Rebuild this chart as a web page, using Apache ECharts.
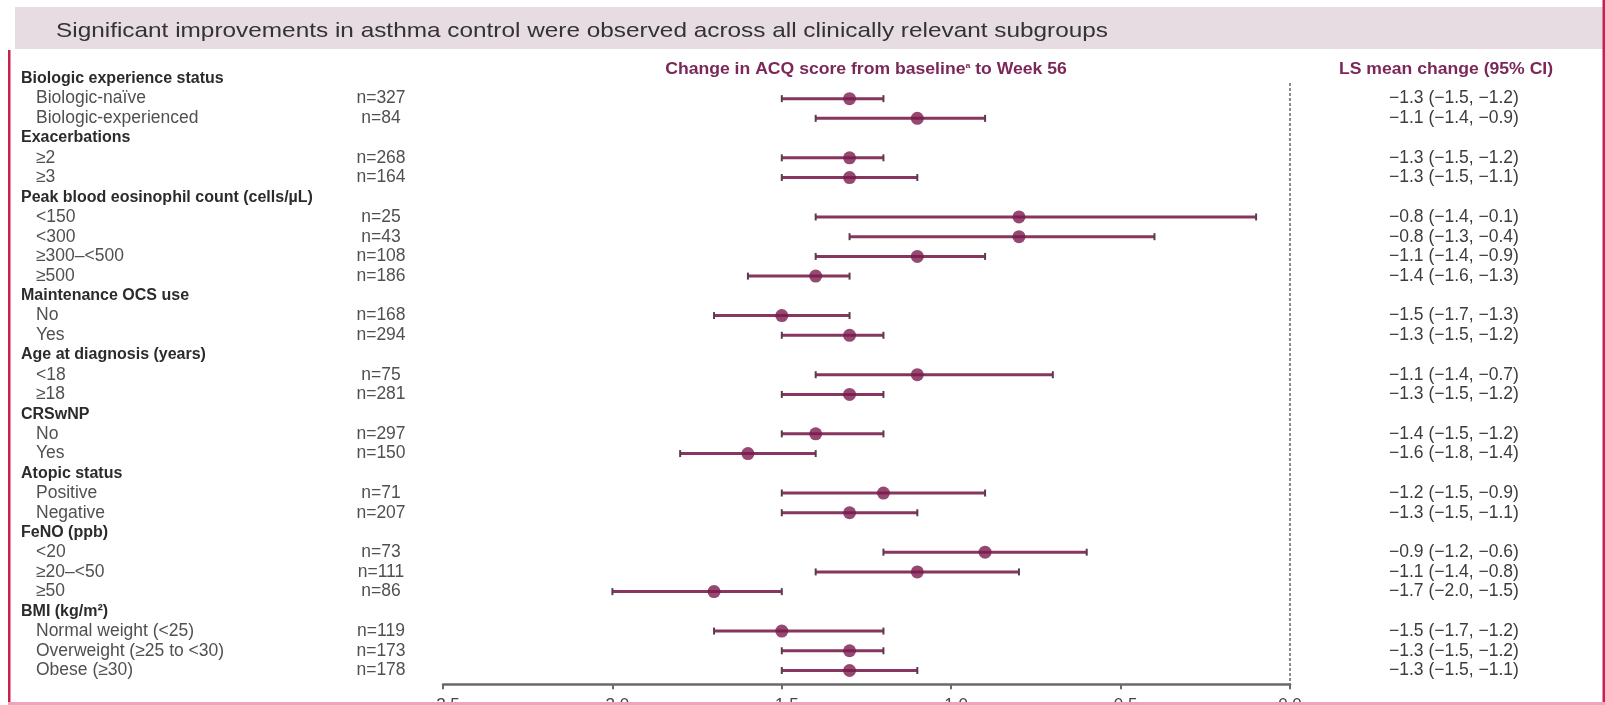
<!DOCTYPE html>
<html>
<head>
<meta charset="utf-8">
<script src="https://cdn.jsdelivr.net/npm/echarts@6/dist/echarts.min.js"></script>
<style>
  html, body { margin: 0; padding: 0; background: #ffffff; }
  #chart { width: 1605px; height: 705px; }
</style>
</head>
<body>
<div id="chart"></div>
<script>
// Subgroup rows, top to bottom (group headings have no n / estimate)
const rowLabels = [
  'Biologic experience status', 'Biologic-naïve', 'Biologic-experienced',
  'Exacerbations', '≥2', '≥3',
  'Peak blood eosinophil count (cells/µL)', '<150', '<300', '≥300–<500', '≥500',
  'Maintenance OCS use', 'No', 'Yes',
  'Age at diagnosis (years)', '<18', '≥18',
  'CRSwNP', 'No', 'Yes',
  'Atopic status', 'Positive', 'Negative',
  'FeNO (ppb)', '<20', '≥20–<50', '≥50',
  'BMI (kg/m²)', 'Normal weight (<25)', 'Overweight (≥25 to <30)', 'Obese (≥30)'
];
const headerRows = [0, 3, 6, 11, 14, 17, 20, 23, 27];
const nLabels = [
  '', 'n=327', 'n=84',
  '', 'n=268', 'n=164',
  '', 'n=25', 'n=43', 'n=108', 'n=186',
  '', 'n=168', 'n=294',
  '', 'n=75', 'n=281',
  '', 'n=297', 'n=150',
  '', 'n=71', 'n=207',
  '', 'n=73', 'n=111', 'n=86',
  '', 'n=119', 'n=173', 'n=178'
];
// LS mean change in ACQ score and 95% CI
const lsMean = [
  null, -1.3, -1.1,
  null, -1.3, -1.3,
  null, -0.8, -0.8, -1.1, -1.4,
  null, -1.5, -1.3,
  null, -1.1, -1.3,
  null, -1.4, -1.6,
  null, -1.2, -1.3,
  null, -0.9, -1.1, -1.7,
  null, -1.5, -1.3, -1.3
];
const ciLower = [
  null, -1.5, -1.4,
  null, -1.5, -1.5,
  null, -1.4, -1.3, -1.4, -1.6,
  null, -1.7, -1.5,
  null, -1.4, -1.5,
  null, -1.5, -1.8,
  null, -1.5, -1.5,
  null, -1.2, -1.4, -2.0,
  null, -1.7, -1.5, -1.5
];
const ciUpper = [
  null, -1.2, -0.9,
  null, -1.2, -1.1,
  null, -0.1, -0.4, -0.9, -1.3,
  null, -1.3, -1.2,
  null, -0.7, -1.2,
  null, -1.2, -1.4,
  null, -0.9, -1.1,
  null, -0.6, -0.8, -1.5,
  null, -1.2, -1.2, -1.1
];
const xTicks = [-2.5, -2.0, -1.5, -1.0, -0.5, 0.0];

const titleText = 'Significant improvements in asthma control were observed across all clinically relevant subgroups';
const FONT = '"Liberation Sans", Arial, Helvetica, sans-serif';
const PLUM = '#7b2757';
const BODY_SIZE = 17.5;

function fmt(v) {
  return (v < 0 ? '\u2212' : '') + Math.abs(v).toFixed(1);
}
function rowIndex(v) {
  const i = Math.round(v);
  if (Math.abs(v - i) > 1e-6 || i < 0 || i >= rowLabels.length) return -1;
  return i;
}

const Y_MIN = -2, Y_MAX = 30.7;
function rowAxis(position, label) {
  return {
    type: 'value', gridIndex: 0, position: position, offset: 0,
    min: Y_MIN, max: Y_MAX, interval: 1, inverse: true,
    axisLine: { show: false }, axisTick: { show: false }, splitLine: { show: false },
    axisLabel: Object.assign({ fontFamily: FONT, fontSize: BODY_SIZE, showMinLabel: true, showMaxLabel: true }, label)
  };
}

const ciData = [], meanData = [];
lsMean.forEach((m, i) => {
  if (m === null) return;
  ciData.push([ciLower[i], ciUpper[i], i]);
  meanData.push([m, i]);
});

const chart = echarts.init(document.getElementById('chart'), null, { renderer: 'canvas' });

chart.setOption({
  backgroundColor: '#ffffff',
  animation: false,
  grid: { left: 443, right: 315, top: 39.5, bottom: 20.7, containLabel: false, outerBoundsMode: 'none' },
  xAxis: {
    type: 'value', min: -2.5, max: 0, interval: 0.5, position: 'bottom',
    axisLine: { onZero: false, lineStyle: { color: '#6a6a6a', width: 2.5 } },
    axisTick: { length: 5, lineStyle: { color: '#6a6a6a', width: 2 } },
    splitLine: { show: false },
    axisLabel: {
      margin: 13, fontFamily: FONT, fontSize: 17, color: '#444',
      customValues: xTicks,
      formatter: v => (v === 0 ? '0.0' : fmt(v))
    }
  },
  yAxis: [
    // plotting axis + subgroup names
    rowAxis('left', {
      align: 'left', margin: 422,
      formatter: v => {
        const i = rowIndex(v);
        if (i < 0) return '';
        return headerRows.indexOf(i) >= 0 ? '{h|' + rowLabels[i] + '}' : '{i|' + rowLabels[i] + '}';
      },
      rich: {
        h: { fontFamily: FONT, fontSize: 16, fontWeight: 'bold', color: '#2b2b2b' },
        i: { fontFamily: FONT, fontSize: BODY_SIZE, color: '#505050', padding: [0, 0, 0, 15] }
      }
    }),
    // sample sizes
    rowAxis('left', {
      align: 'center', margin: 62, color: '#505050',
      formatter: v => { const i = rowIndex(v); return i < 0 ? '' : nLabels[i]; }
    }),
    // LS mean change (95% CI)
    rowAxis('right', {
      align: 'left', margin: 99, color: '#3c3c3c',
      formatter: v => {
        const i = rowIndex(v);
        if (i < 0 || lsMean[i] === null) return '';
        return fmt(lsMean[i]) + ' (' + fmt(ciLower[i]) + ', ' + fmt(ciUpper[i]) + ')';
      }
    })
  ],
  series: [
    {
      name: 'No change', type: 'line', yAxisIndex: 0, symbol: 'none', silent: true,
      data: [[0, 0.2], [0, Y_MAX]],
      lineStyle: { color: '#666', width: 1.5, type: [3, 2] }, z: 1
    },
    {
      name: '95% CI', type: 'custom', yAxisIndex: 0,
      encode: { x: [0, 1], y: 2 },
      data: ciData,
      renderItem: (params, api) => {
        const y = api.value(2);
        const p0 = api.coord([api.value(0), y]);
        const p1 = api.coord([api.value(1), y]);
        const cap = 3.5;
        return {
          type: 'group',
          children: [
            { type: 'line', shape: { x1: p0[0], y1: p0[1], x2: p1[0], y2: p1[1] },
              style: { stroke: '#86365f', lineWidth: 3 } },
            { type: 'line', shape: { x1: p0[0], y1: p0[1] - cap, x2: p0[0], y2: p0[1] + cap },
              style: { stroke: '#5a3c50', lineWidth: 2 } },
            { type: 'line', shape: { x1: p1[0], y1: p1[1] - cap, x2: p1[0], y2: p1[1] + cap },
              style: { stroke: '#5a3c50', lineWidth: 2 } }
          ]
        };
      },
      z: 2
    },
    {
      name: 'LS mean change', type: 'scatter', yAxisIndex: 0,
      symbol: 'circle', symbolSize: 13,
      itemStyle: { color: '#7a1b4d' },
      data: meanData, z: 3
    }
  ],
  graphic: [
    { type: 'rect', shape: { x: 15, y: 7, width: 1588, height: 42 }, style: { fill: '#e7dce2' }, z: 0 },
    { type: 'text', x: 56, y: 31, scaleX: 1.16,
      style: { text: titleText, font: '21px ' + FONT, fill: '#333', verticalAlign: 'middle' }, z: 1 },
    { type: 'text', x: 866, y: 69.5, scaleX: 1.1, style: {
        text: '{b|Change in ACQ score from baseline}{s|a}{b| to Week 56}',
        align: 'center', verticalAlign: 'middle',
        rich: {
          b: { font: 'bold 16px ' + FONT, fill: PLUM },
          s: { font: 'bold 8px ' + FONT, fill: PLUM, verticalAlign: 'top' }
        }
      }, z: 1 },
    { type: 'text', x: 1446, y: 70, scaleX: 1.1,
      style: { text: 'LS mean change (95% CI)', font: 'bold 16px ' + FONT, fill: PLUM, align: 'center', verticalAlign: 'middle' }, z: 1 },
    { type: 'rect', shape: { x: 8, y: 50, width: 2.5, height: 655 }, style: { fill: '#c8204f' }, z: 100 },
    { type: 'rect', shape: { x: 1602.5, y: 0, width: 2.5, height: 705 }, style: { fill: '#c8204f' }, z: 100 },
    { type: 'rect', shape: { x: 8, y: 702, width: 1597, height: 3 }, style: { fill: '#f1a2be' }, z: 100 }
  ]
});
</script>
</body>
</html>
